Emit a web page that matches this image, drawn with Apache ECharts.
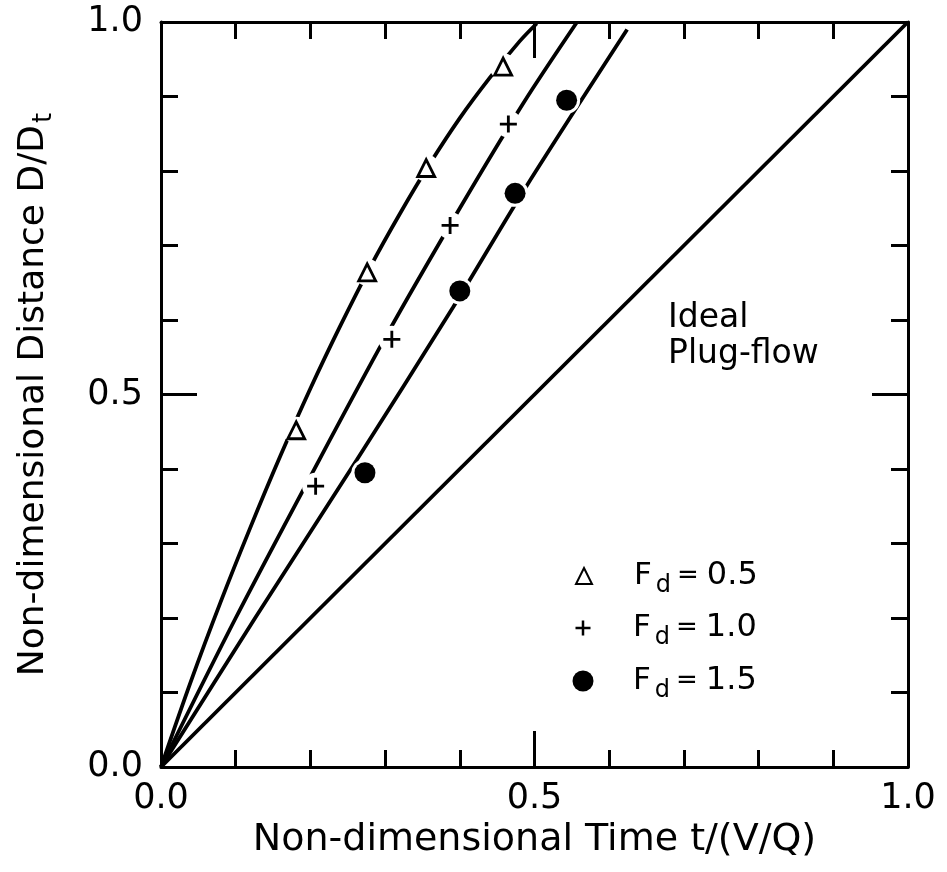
<!DOCTYPE html>
<html>
<head>
<meta charset="utf-8">
<script src="https://cdn.jsdelivr.net/npm/echarts@6/dist/echarts.min.js"></script>
<style>
  html, body { margin: 0; background: #fff; }
  #main { width: 947px; height: 872px; }
</style>
</head>
<body>
<div id="main"></div>
<script>
// measured points (t/(V/Q), D/Dt)
const fd05Points = [[0.181, 0.452], [0.276, 0.664], [0.355, 0.804], [0.458, 0.940]];
const fd10Points = [[0.207, 0.377], [0.309, 0.574], [0.387, 0.727], [0.465, 0.863]];
const fd15Points = [[0.273, 0.395], [0.400, 0.639], [0.474, 0.770], [0.543, 0.895]];

// fitted curves
const fd05Curve = [[0, 0], [0.04, 0.115], [0.08, 0.222], [0.119, 0.32], [0.16, 0.418], [0.2, 0.508],
  [0.24, 0.592], [0.28, 0.671], [0.32, 0.743], [0.36, 0.81], [0.40, 0.871], [0.44, 0.925],
  [0.48, 0.974], [0.503, 0.998]];
const fd10Curve = [[0, 0], [0.1, 0.2], [0.2, 0.39], [0.3, 0.576], [0.4, 0.75], [0.485, 0.891], [0.557, 1.0]];
const fd15Curve = [[0, 0], [0.126, 0.2], [0.262, 0.412], [0.391, 0.617], [0.49, 0.781], [0.624, 0.99]];
const plugFlow = [[0, 0], [1, 1]];

const seriesNames = ['Fd = 0.5', 'Fd = 1.0', 'Fd = 1.5'];
const legendValues = ['0.5', '1.0', '1.5'];
const tickLabels = ['0.0', '0.5', '1.0'];

const font = 'DejaVu Sans';
const plusPath = 'path://M-1,-6H1V-1H6V1H1V6H-1V1H-6V-1H-1Z';

const lineStyle = { color: '#000', width: 3.8 };

const curveSeries = [fd05Curve, fd10Curve, fd15Curve, plugFlow].map((d) => ({
  type: 'line',
  data: d,
  showSymbol: false,
  smooth: 0.3,
  lineStyle: lineStyle,
  silent: true,
  z: 2,
}));

// white ring behind each marker so the curves break around it
const halo = {
  type: 'scatter',
  data: fd05Points.concat(fd10Points, fd15Points),
  symbol: 'circle',
  symbolSize: 27,
  itemStyle: { color: '#fff', opacity: 1 },
  silent: true,
  z: 3,
};

const markerSeries = [
  {
    name: seriesNames[0], type: 'scatter', data: fd05Points, symbol: 'triangle', symbolSize: 17,
    itemStyle: { color: '#fff', borderColor: '#000', borderWidth: 2.8, opacity: 1 }, z: 4,
  },
  {
    name: seriesNames[1], type: 'scatter', data: fd10Points, symbol: plusPath, symbolSize: 17,
    itemStyle: { color: '#000', opacity: 1 }, z: 4,
  },
  {
    name: seriesNames[2], type: 'scatter', data: fd15Points, symbol: 'circle', symbolSize: 21,
    itemStyle: { color: '#000', opacity: 1 }, z: 4,
  },
];

const legendIcons = ['triangle', plusPath, 'circle'];
const legendSizes = [16, 15, 21];
const legendTops = [560, 612, 665];

const legends = seriesNames.map((name, i) => ({
  data: [{ name: name, icon: legendIcons[i] }],
  left: 583 - legendSizes[i] / 2,
  top: legendTops[i],
  padding: 0,
  itemWidth: legendSizes[i],
  itemHeight: legendSizes[i],
  selectedMode: false,
  formatter: () => '{F|F}{d|d}{eq|=}{v|' + legendValues[i] + '}',
  textStyle: {
    color: '#000',
    fontFamily: font,
    rich: {
      F: { fontSize: 31, fontFamily: font, color: '#000', padding: [0, 0, 0, 633 - 588 - legendSizes[i] / 2] },
      d: { fontSize: 24, fontFamily: font, color: '#000', padding: [20, 0, 0, 4] },
      eq: { fontSize: 26, fontFamily: font, color: '#000', padding: [0, 8, 0, 6] },
      v: { fontSize: 32, fontFamily: font, color: '#000' },
    },
  },
}));

const axisCommon = {
  type: 'value',
  min: 0,
  max: 1,
  interval: 0.5,
  axisLine: { show: true, onZero: false, lineStyle: { color: '#000', width: 3 } },
  axisTick: { show: true, inside: true, length: 36, lineStyle: { color: '#000', width: 3 } },
  minorTick: { show: true, splitNumber: 5, length: 17, lineStyle: { color: '#000', width: 3 } },
  splitLine: { show: false },
  minorSplitLine: { show: false },
};

const labelStyle = {
  color: '#000',
  fontFamily: font,
  fontSize: 35,
  formatter: (v) => tickLabels[Math.round(v * 2)],
};

const chart = echarts.init(document.getElementById('main'));

chart.setOption({
  animation: false,
  backgroundColor: '#fff',
  grid: { left: 161, right: 39, top: 22, bottom: 105, outerBoundsMode: 'none' },
  xAxis: [
    Object.assign({}, axisCommon, {
      position: 'bottom',
      axisLabel: Object.assign({ margin: 14 }, labelStyle),
      name: 'Non-dimensional Time t/(V/Q)',
      nameLocation: 'middle',
      nameGap: 52,
      nameTextStyle: { color: '#000', fontFamily: font, fontSize: 38 },
    }),
    Object.assign({}, axisCommon, { position: 'top', axisLabel: { show: false } }),
  ],
  yAxis: [
    Object.assign({}, axisCommon, {
      position: 'left',
      axisLabel: Object.assign({ margin: 18 }, labelStyle),
      name: '{a|Non-dimensional Distance D/D}{s|t}',
      nameLocation: 'middle',
      nameGap: 104,
      nameTextStyle: {
        color: '#000',
        fontFamily: font,
        rich: {
          a: { fontSize: 36, fontFamily: font, color: '#000' },
          s: { fontSize: 26, fontFamily: font, color: '#000', padding: [20, 0, 0, 2] },
        },
      },
    }),
    Object.assign({}, axisCommon, { position: 'right', axisLabel: { show: false } }),
  ],
  legend: legends,
  graphic: [
    {
      type: 'text',
      left: 668,
      top: 300,
      style: {
        text: 'Ideal\nPlug-flow',
        font: '33px "DejaVu Sans"',
        fill: '#000',
        lineHeight: 36,
      },
    },
  ],
  series: curveSeries.concat([halo], markerSeries),
});
</script>
</body>
</html>
